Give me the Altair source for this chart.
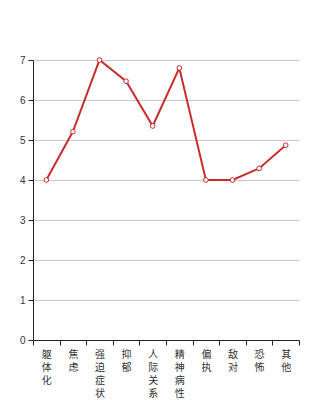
import altair as alt
import pandas as pd

categories = ["躯体化", "焦虑", "强迫症状", "抑郁", "人际关系敏感", "精神病性", "偏执", "敌对", "恐怖", "其他"]
values = [4.0, 5.21, 7.0, 6.47, 5.35, 6.8, 4.0, 4.0, 4.29, 4.87]

df = pd.DataFrame({"cat": categories, "val": values})

x = alt.X("cat:N", sort=categories, title=None,
          scale=alt.Scale(paddingInner=0, paddingOuter=0),
          axis=alt.Axis(labelAngle=0, tickBand="extent",
                        labelExpr="datum.value ? split(datum.value, '') : ''",
                        labelLineHeight=13, labelFontSize=10, labelColor="#333",
                        labelFont="Noto Sans CJK SC", labelPadding=4, tickSize=5,
                        domainColor="#222", tickColor="#222", grid=False))
y = alt.Y("val:Q", title=None,
          scale=alt.Scale(domain=[0, 7], nice=False),
          axis=alt.Axis(values=[0, 1, 2, 3, 4, 5, 6, 7], tickSize=5, labelFontSize=10,
                        labelColor="#333", domainColor="#222", tickColor="#222",
                        gridColor="#c8c8c8", labelPadding=3))

line = alt.Chart(df).mark_line(color="#c62e2e", strokeWidth=2).encode(x=x, y=y)
pts = alt.Chart(df).mark_point(shape="circle", filled=True, fill="white", stroke="#c62e2e",
                               strokeWidth=1, size=22, opacity=1).encode(x=x, y=y)

chart = (line + pts).properties(
    width=266, height=280,
    autosize=alt.AutoSizeParams(type="none"),
    padding={"left": 33, "top": 60, "right": 33, "bottom": 60},
    background="white",
).configure_view(stroke=None)

chart.save("out.html", embed_options={"renderer": "svg", "actions": False})
